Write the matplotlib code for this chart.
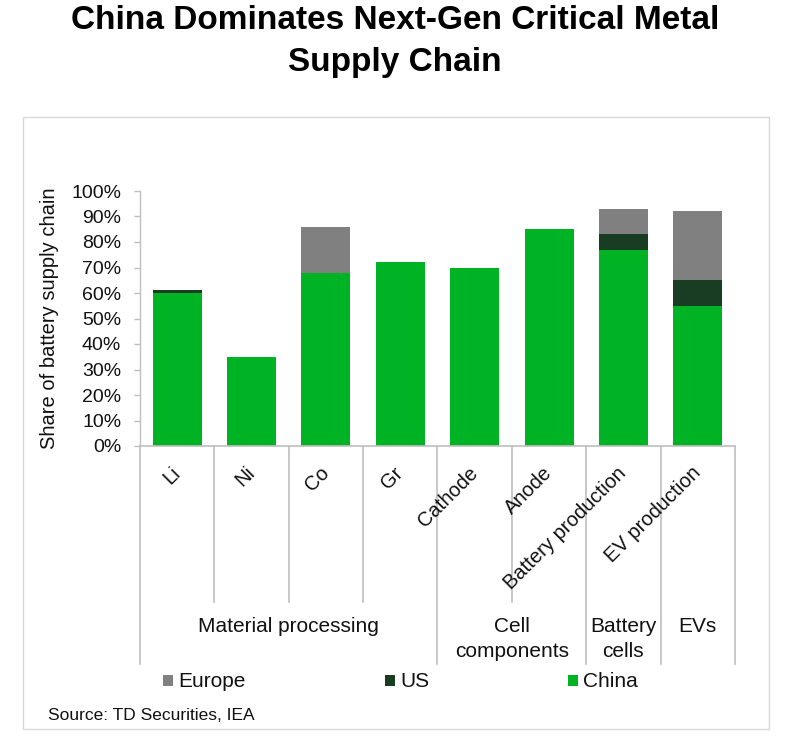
import numpy as np
import matplotlib
matplotlib.use("Agg")
import matplotlib.pyplot as plt
import matplotlib.transforms as mtransforms
from matplotlib.patches import Rectangle
from matplotlib.lines import Line2D

plt.rcParams['font.family'] = ['Liberation Sans', 'DejaVu Sans']

# ---- data ----
categories = ["Li", "Ni", "Co", "Gr", "Cathode", "Anode", "Battery production", "EV production"]
groups = ["Material processing", "Cell\ncomponents", "Battery\ncells", "EVs"]
group_sizes = [4, 2, 1, 1]
china = [60, 35, 68, 72, 70, 85, 77, 55]
us = [1, 0, 0, 0, 0, 0, 6, 10]
europe = [0, 0, 18, 0, 0, 0, 10, 27]
series_names = ["Europe", "US", "China"]
yticks = [0, 10, 20, 30, 40, 50, 60, 70, 80, 90, 100]

title_lines = ["China Dominates Next-Gen Critical Metal", "Supply Chain"]
ylabel = "Share of battery supply chain"
source = "Source: TD Securities, IEA"

# ---- styles ----
c_china = "#00b324"
c_us = "#193d22"
c_eu = "#808080"
line_c = "#bfbfbf"
txt_c = "#111111"

W, H = 804, 752
fig = plt.figure(figsize=(W / 100, H / 100), dpi=100)


def fx(px):
    return px / W


def fy(py):
    return 1 - py / H


# outer border
fig.add_artist(Rectangle((fx(23), fy(729)), fx(769) - fx(23), fy(117) - fy(729),
                         transform=fig.transFigure, fill=False, edgecolor="#d9d9d9", lw=1))

# title
for line, yb in zip(title_lines, [29, 71]):
    fig.text(fx(395), fy(yb), line, ha="center", va="baseline", fontsize=24,
             fontweight="bold", color="black")

ax = fig.add_axes([fx(140), fy(446), fx(735) - fx(140), fy(191) - fy(446)])
x = np.arange(len(categories))
china_a = np.array(china, dtype=float)
us_a = np.array(us, dtype=float)
eu_a = np.array(europe, dtype=float)

bw = 0.66
ax.bar(x, china_a, width=bw, color=c_china, linewidth=0, zorder=2)
ax.bar(x, us_a, width=bw, bottom=china_a, color=c_us, linewidth=0, zorder=2)
ax.bar(x, eu_a, width=bw, bottom=china_a + us_a, color=c_eu, linewidth=0, zorder=2)

ax.set_xlim(-0.5, len(categories) - 0.5)
ax.set_ylim(0, 100)
ax.set_yticks(yticks)
ax.set_yticklabels([f"{v}%" for v in yticks])
ax.tick_params(axis="y", direction="out", length=4.5, width=1, color=line_c,
               labelsize=14, labelcolor=txt_c, pad=9)
ax.set_xticks([])
for s in ["top", "right", "bottom"]:
    ax.spines[s].set_visible(False)
ax.spines["left"].set_color(line_c)
ax.spines["left"].set_linewidth(1)
ax.axhline(0, color=line_c, lw=1.2, zorder=3, clip_on=False)

fig.text(fx(50), fy(318), ylabel, rotation=90, ha="center", va="center",
         fontsize=14.5, color=txt_c)

# category axis
trans = mtransforms.blended_transform_factory(ax.transData, fig.transFigure)
for i, lab in enumerate(categories):
    ax.text(i + 0.0, fy(470), lab, transform=trans, rotation=45, rotation_mode="anchor",
            ha="right", va="center", fontsize=14.5, color=txt_c)

edges = np.concatenate([[0], np.cumsum(group_sizes)]) - 0.5
group_edges = set(np.round(edges, 3))
for b in np.arange(-0.5, len(categories) + 0.5 - 1e-9, 1.0):
    bottom = 664 if round(b, 3) in group_edges else 602
    ax.add_line(Line2D([b, b], [fy(446), fy(bottom)], transform=trans, color=line_c,
                       lw=1.2, clip_on=False))

for g, lo, hi in zip(groups, edges[:-1], edges[1:]):
    for k, part in enumerate(g.split("\n")):
        ax.text((lo + hi) / 2, fy(632 + 25 * k), part, transform=trans, ha="center",
                va="baseline", fontsize=15, color=txt_c)

# legend
series_colors = {"Europe": c_eu, "US": c_us, "China": c_china}
for name, mx in zip(series_names, [163, 385, 568]):
    fig.add_artist(Rectangle((fx(mx), fy(686)), fx(10), fy(675) - fy(686),
                             transform=fig.transFigure, color=series_colors[name], lw=0))
    fig.text(fx(mx + 15), fy(687), name, ha="left", va="baseline", fontsize=15, color=txt_c)

fig.text(fx(48), fy(720.5), source, ha="left", va="baseline", fontsize=12.5, color=txt_c)

fig.savefig("out.png", dpi=100)
